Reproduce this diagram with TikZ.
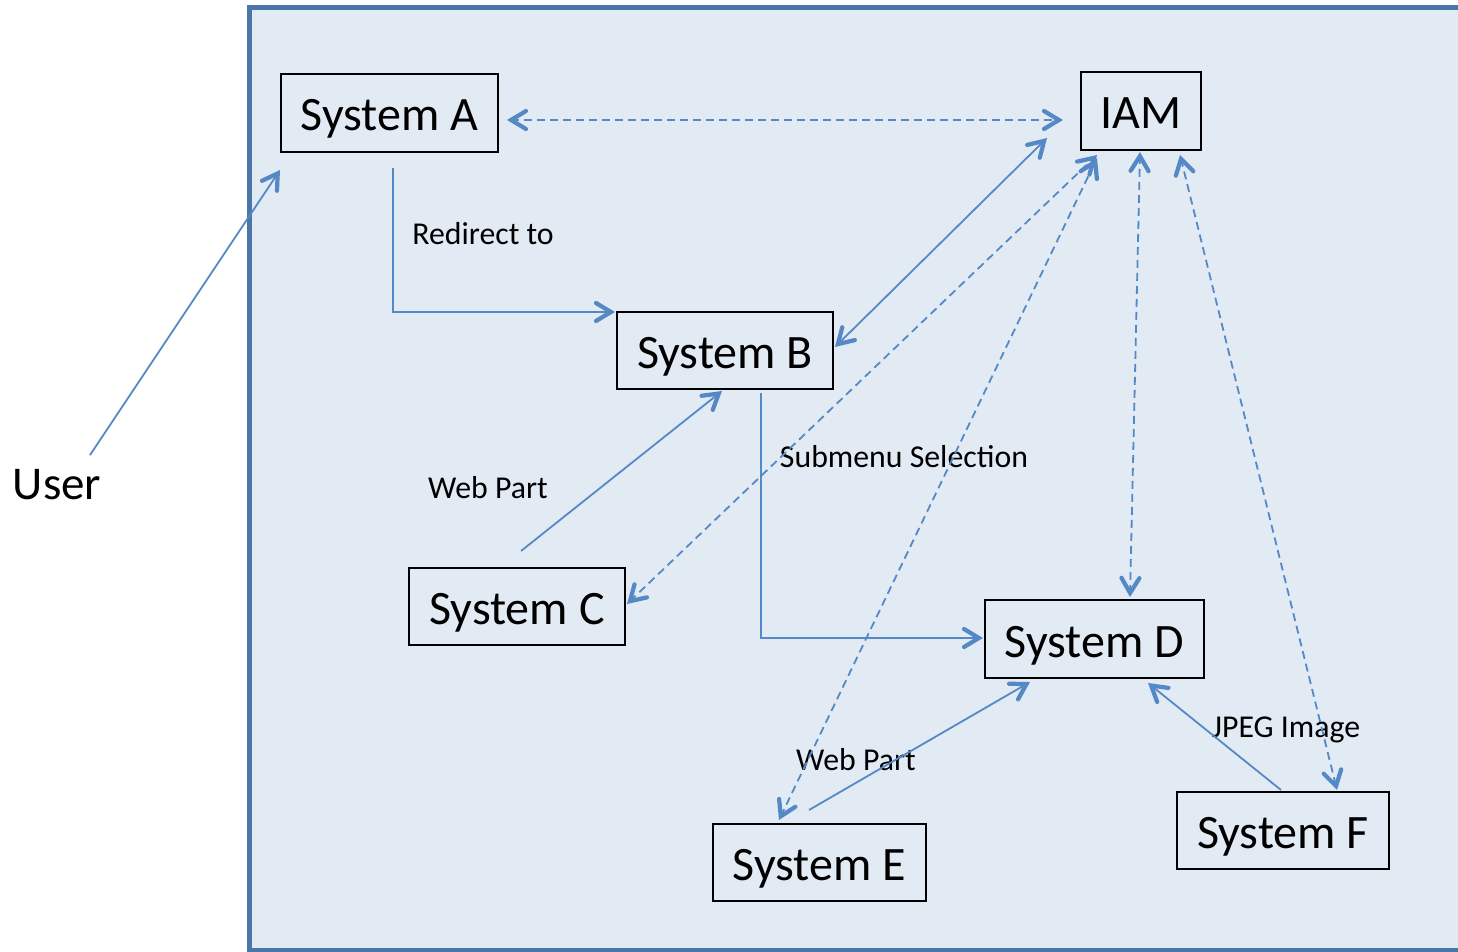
\documentclass[tikz,border=0pt]{standalone}
\usepackage{fontspec}
\setmainfont{Carlito}
\usetikzlibrary{arrows.meta,calc}
\definecolor{bgfill}{RGB}{226,234,244}
\definecolor{bgborder}{RGB}{74,118,168}
\definecolor{arr}{RGB}{84,137,198}
\pgfdeclarearrow{
  name = Chev,
  setup code = {
    \pgfarrowssettipend{0pt}
    \pgfarrowssetlineend{-4pt}
    \pgfarrowssetbackend{-21pt}
    \pgfarrowshullpoint{0pt}{0pt}
    \pgfarrowshullpoint{-21pt}{11pt}
    \pgfarrowshullpoint{-21pt}{-11pt}
  },
  drawing code = {
    \pgfsetdash{}{0pt}
    \pgfpathmoveto{\pgfqpoint{0pt}{0pt}}
    \pgfpathlineto{\pgfqpoint{-17.9pt}{10.8pt}}
    \pgfpathlineto{\pgfqpoint{-20.1pt}{7.2pt}}
    \pgfpathlineto{\pgfqpoint{-8.2pt}{0pt}}
    \pgfpathlineto{\pgfqpoint{-20.1pt}{-7.2pt}}
    \pgfpathlineto{\pgfqpoint{-17.9pt}{-10.8pt}}
    \pgfpathclose
    \pgfpathcircle{\pgfqpoint{-19pt}{9pt}}{2.1pt}
    \pgfpathcircle{\pgfqpoint{-19pt}{-9pt}}{2.1pt}
    \pgfusepathqfill
  }
}
\begin{document}
\begin{tikzpicture}[x=1pt,y=-1pt,
  box/.style={draw=black,line width=2pt,minimum width=#1,minimum height=77pt,inner sep=0pt,
    text height=45pt,text depth=9pt,font=\fontsize{48}{52}\selectfont},
  lbl/.style={anchor=base,inner sep=0pt,font=\fontsize{31.8}{35}\selectfont},
  conn/.style={draw=arr,line width=1.8pt},
  dsh/.style={conn,dash pattern=on 8pt off 5pt},
  >={Chev}]
\useasboundingbox (0,0) rectangle (1458,952);
\path[fill=bgfill,draw=bgborder,line width=5pt] (249.5,7.5) rectangle (1475,950);

\node[box=217pt,minimum height=78pt] (A) at (389.5,113) {System A};
\node[box=120pt,minimum height=78pt] (iam) at (1141,111) {IAM};
\node[box=216pt] (B) at (725,350.5) {System B};
\node[box=216pt] (C) at (517,606.5) {System C};
\node[box=219pt,minimum height=78pt] (D) at (1094.5,639) {System D};
\node[box=213pt] (E) at (819.5,862.5) {System E};
\node[box=212pt] (F) at (1283,830.5) {System F};
\node[lbl,font=\fontsize{47}{50}\selectfont] (user) at (57,499) {User};

\node[lbl] (l1) at (483,244) {Redirect to};
\node[lbl] (l2) at (488,498) {Web Part};
\node[lbl] (l3) at (904,467) {Submenu Selection};
\node[lbl] (l4) at (856,770) {Web Part};
\node[lbl] (l5) at (1286,737) {JPEG Image};

% solid connectors
\draw[conn,->] ($(user.center)+(33,-29)$) -- ($(A.center)+(-109.5,57)$);
\draw[conn,->] ($(A.center)+(3.5,55)$) |- ($(B.center)+(-110,-38.5)$);
\draw[conn,<->] ($(B.center)+(110,-3.5)$) -- ($(iam.center)+(-94,27)$);
\draw[conn,->] ($(C.center)+(4,-55.5)$) -- ($(B.center)+(-3,40.5)$);
\draw[conn,->] ($(B.center)+(36,42.5)$) |- ($(D.center)+(-111.5,-1)$);
\draw[conn,->] ($(E.center)+(-10.5,-52.5)$) -- ($(D.center)+(-64.5,43)$);
\draw[conn,->] ($(F.center)+(-2,-40.5)$) -- ($(D.center)+(53.5,44)$);

% dashed connectors
\draw[dsh,<->] ($(A.center)+(117.5,7)$) -- ($(iam.center)+(-78,9)$);
\draw[dsh,<->] ($(C.center)+(110,-2.5)$) -- ($(iam.center)+(-44,44)$);
\draw[dsh,<->] ($(E.center)+(-40.5,-42.5)$) -- ($(iam.center)+(-44,47)$);
\draw[dsh,<->] ($(iam.center)+(-1,41)$) -- ($(D.center)+(35.5,-42)$);
\draw[dsh,<->] ($(iam.center)+(39,44)$) -- ($(F.center)+(54,-40.5)$);
\end{tikzpicture}
\end{document}
